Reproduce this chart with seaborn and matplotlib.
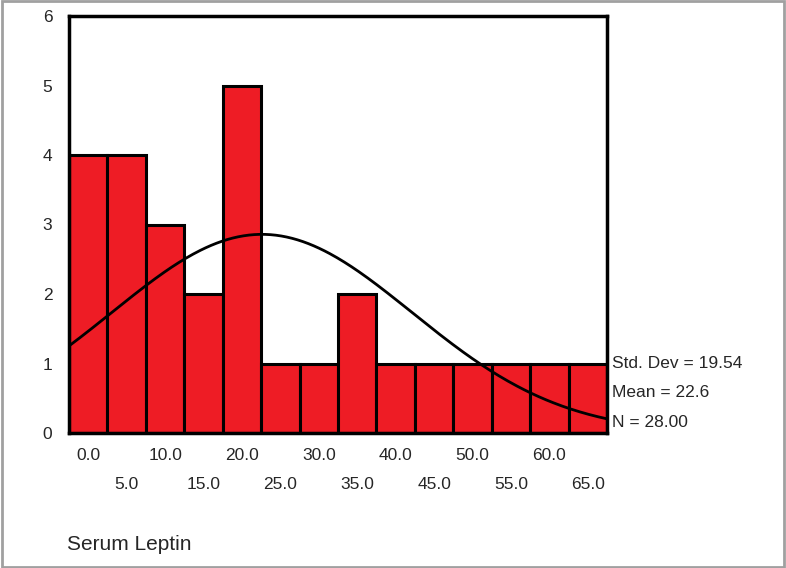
import numpy as np
import pandas as pd
import matplotlib
matplotlib.use("Agg")
import matplotlib.pyplot as plt
import seaborn as sns
from matplotlib.patches import Rectangle

bin_centers = [0, 5, 10, 15, 20, 25, 30, 35, 40, 45, 50, 55, 60, 65]
counts = [4, 4, 3, 2, 5, 1, 1, 2, 1, 1, 1, 1, 1, 1]
tick_labels = ["0.0", "5.0", "10.0", "15.0", "20.0", "25.0", "30.0", "35.0",
               "40.0", "45.0", "50.0", "55.0", "60.0", "65.0"]
std_dev = 19.54
mean = 22.6
n = 28
bin_width = 5

sns.set_style("white")
plt.rcParams['font.family'] = ['Liberation Sans', 'DejaVu Sans']

fig = plt.figure(figsize=(7.86, 5.68), dpi=100)
ax = fig.add_axes([69/786, 1-433/568, (607-69)/786, (433-16)/568])

df = pd.DataFrame({"x": bin_centers, "w": counts})
edges = [c - bin_width/2 for c in bin_centers] + [bin_centers[-1] + bin_width/2]
sns.histplot(data=df, x="x", weights="w", bins=edges, ax=ax,
             color="#EE1C25", alpha=1, edgecolor="black", linewidth=2.2)

xs = np.linspace(edges[0], edges[-1], 300)
ys = n * bin_width / (std_dev * np.sqrt(2*np.pi)) * np.exp(-0.5*((xs-mean)/std_dev)**2)
ax.plot(xs, ys, color="black", lw=2)

fs = 12.5
ax.set_xlim(edges[0], edges[-1])
ax.set_ylim(0, 6)
ax.set_xticks(bin_centers)
ax.set_xticklabels([lab if i % 2 == 0 else "\n" + lab for i, lab in enumerate(tick_labels)], fontsize=fs)
for t in ax.get_xticklabels():
    t.set_linespacing(2.15)
ax.set_yticks(range(7))
ax.set_yticklabels([str(i) for i in range(7)], fontsize=fs)
ax.tick_params(axis='both', direction='out', length=4, width=1.5, color='black')
ax.tick_params(axis='x', pad=7)
ax.tick_params(axis='y', pad=8)
ax.set_xlabel("")
ax.set_ylabel("")
for s in ax.spines.values():
    s.set_visible(True)
    s.set_color("black")
    s.set_linewidth(2.5)

ax.text(1.01, 1, f"Std. Dev = {std_dev:.2f}", transform=ax.get_yaxis_transform(),
        va="center", ha="left", fontsize=fs)
ax.text(1.01, 0.58, f"Mean = {mean:.1f}", transform=ax.get_yaxis_transform(),
        va="center", ha="left", fontsize=fs)
ax.text(1.01, 0.15, f"N = {n:.2f}", transform=ax.get_yaxis_transform(),
        va="center", ha="left", fontsize=fs)

fig.text(67/786, 1-545/568, "Serum Leptin", ha="left", va="center", fontsize=15)

fig.patches.append(Rectangle((0.002, 0.002), 0.996, 0.996, transform=fig.transFigure,
                             fill=False, edgecolor="#A0A0A0", lw=2))

fig.savefig("out.png", dpi=100)
